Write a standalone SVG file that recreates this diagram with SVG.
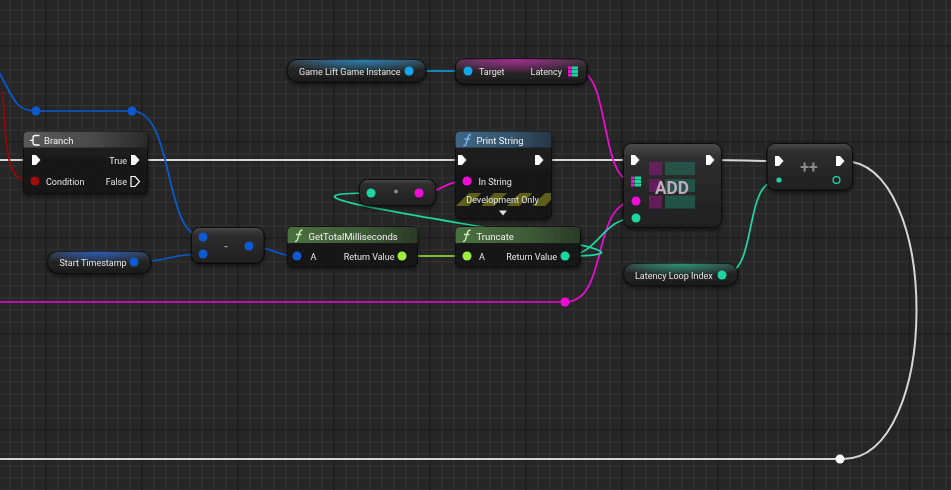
<svg xmlns="http://www.w3.org/2000/svg" width="951" height="490" viewBox="0 0 951 490">
<style>
  text { font-family: Roboto, "Liberation Sans", sans-serif; fill: #e4e4e4; font-size: 9px; }
  .title { font-size: 9.5px; fill: #f0f0f0; }
  .body { fill: url(#bodyG); stroke: #0b0b0b; stroke-width: 1; }
  .cbody { fill: url(#cbodyG); stroke: #0b0b0b; stroke-width: 1; }
  .wire { fill: none; stroke-width: 1.7; stroke-linecap: round; }
  .exec { fill: none; stroke: #d6d6d6; stroke-width: 2; }
  .w-struct { stroke: #0a5ad2; }
  .w-obj { stroke: #12a6ea; }
  .w-str { stroke: #f20ad8; }
  .w-int { stroke: #1ed6a0; }
  .w-flt { stroke: #9ef03c; }
  .w-bool { stroke: #9a0606; }
  .p-struct { fill: #0a5ad2; }
  .p-obj { fill: #12a6ea; }
  .p-str { fill: #f20ad8; }
  .p-int { fill: #1ed6a0; }
  .p-flt { fill: #9ef03c; }
  .p-bool { fill: #a00a0a; }
  .ex { fill: #ffffff; }
  .exh { fill: none; stroke: #ffffff; stroke-width: 1.2; }
</style>
<defs>
  <pattern id="minor" x="9.33" y="9.33" width="12" height="12" patternUnits="userSpaceOnUse">
    <rect x="0" y="0" width="12" height="1" fill="#343434"/>
    <rect x="0" y="0" width="1" height="12" fill="#343434"/>
  </pattern>
  <pattern id="major" x="45.33" y="45.33" width="96" height="96" patternUnits="userSpaceOnUse">
    <rect x="0" y="0" width="96" height="1.2" fill="#171717"/>
    <rect x="0" y="0" width="1.2" height="96" fill="#171717"/>
  </pattern>
  <pattern id="stripes" width="18" height="18" patternUnits="userSpaceOnUse" patternTransform="rotate(45)">
    <rect width="9" height="18" fill="#5e5e1a"/>
  </pattern>
  <linearGradient id="bodyG" x1="0" y1="0" x2="0" y2="1">
    <stop offset="0" stop-color="#1e1e1e" stop-opacity="0.95"/>
    <stop offset="1" stop-color="#141414" stop-opacity="0.95"/>
  </linearGradient>
  <linearGradient id="cbodyG" x1="0" y1="0" x2="0" y2="1">
    <stop offset="0" stop-color="#4a4a4a"/>
    <stop offset="0.18" stop-color="#2e2e2e"/>
    <stop offset="1" stop-color="#1f1f1f"/>
  </linearGradient>
  <linearGradient id="hdrGray" x1="0" y1="0" x2="1" y2="0">
    <stop offset="0" stop-color="#5a5a5a"/>
    <stop offset="0.55" stop-color="#4a4a4a"/>
    <stop offset="1" stop-color="#2a2a2a"/>
  </linearGradient>
  <linearGradient id="hdrBlue" x1="0" y1="0" x2="1" y2="0">
    <stop offset="0" stop-color="#3f6784"/>
    <stop offset="0.6" stop-color="#34536b"/>
    <stop offset="1" stop-color="#263644"/>
  </linearGradient>
  <linearGradient id="hdrGreen" x1="0" y1="0" x2="1" y2="0">
    <stop offset="0" stop-color="#4c7040"/>
    <stop offset="0.6" stop-color="#3d5a35"/>
    <stop offset="1" stop-color="#2a3a27"/>
  </linearGradient>
  <linearGradient id="pillBase" x1="0" y1="0" x2="0" y2="1">
    <stop offset="0" stop-color="#3a3a3a"/>
    <stop offset="0.5" stop-color="#242424"/>
    <stop offset="1" stop-color="#1c1c1c"/>
  </linearGradient>
  <radialGradient id="glowObj" cx="0.55" cy="0" r="0.6">
    <stop offset="0" stop-color="#2a8cc8" stop-opacity="0.85"/>
    <stop offset="1" stop-color="#2a8cc8" stop-opacity="0"/>
  </radialGradient>
  <radialGradient id="glowStruct" cx="0.5" cy="0" r="0.6">
    <stop offset="0" stop-color="#2a62c8" stop-opacity="0.85"/>
    <stop offset="1" stop-color="#2a62c8" stop-opacity="0"/>
  </radialGradient>
  <radialGradient id="glowInt" cx="0.5" cy="0" r="0.6">
    <stop offset="0" stop-color="#2aa883" stop-opacity="0.8"/>
    <stop offset="1" stop-color="#2aa883" stop-opacity="0"/>
  </radialGradient>
  <radialGradient id="glowMag" cx="0.45" cy="0" r="0.6">
    <stop offset="0" stop-color="#c02aa8" stop-opacity="0.8"/>
    <stop offset="1" stop-color="#c02aa8" stop-opacity="0"/>
  </radialGradient>
  <filter id="shadow" x="-10%" y="-20%" width="120%" height="150%">
    <feDropShadow dx="0" dy="2" stdDeviation="2" flood-color="#000" flood-opacity="0.6"/>
  </filter>
  <path id="execPin" d="M-4,-5 H0 L4.5,0 L0,5 H-4 Z"/>
  <g id="mapPin">
    <rect x="-5" y="-5" width="3" height="3" fill="#f20ad8"/>
    <rect x="-1.5" y="-5" width="6.5" height="3" fill="#1ed6a0"/>
    <rect x="-5" y="-1.5" width="3" height="3" fill="#f20ad8"/>
    <rect x="-1.5" y="-1.5" width="6.5" height="3" fill="#1ed6a0"/>
    <rect x="-5" y="2" width="3" height="3" fill="#f20ad8"/>
    <rect x="-1.5" y="2" width="6.5" height="3" fill="#1ed6a0"/>
  </g>
</defs>

<!-- background grid -->
<rect width="951" height="490" fill="#262626"/>
<rect width="951" height="490" fill="url(#minor)"/>
<rect width="951" height="490" fill="url(#major)"/>

<!-- connectors -->
<g id="connectors">
  <!-- exec -->
  <path class="exec" d="M0,160 H32"/>
  <path class="exec" d="M138,160 H458"/>
  <path class="exec" d="M542,160 H631"/>
  <path class="exec" d="M713,160 C745,160 745,161 775,161"/>
  <path class="exec" d="M843,161 C941,161 941,459 843,459"/>
  <path class="exec" d="M0,459 H838"/>
  <!-- struct -->
  <path class="wire w-struct" d="M-2,70 C14,100 16,111 36,111"/>
  <path class="wire w-struct" d="M36,111 H132"/>
  <path class="wire w-struct" d="M132,111 C175,111 163,237 203,237"/>
  <path class="wire w-struct" d="M134,262 C168,262 169,254 203,254"/>
  <path class="wire w-struct" d="M249,246 C273,246 273,256 297,256"/>
  <!-- bool -->
  <path class="wire w-bool" d="M3,92 C6,175 12,181 35,181"/>
  <!-- object -->
  <path class="wire w-obj" d="M409,71 H468"/>
  <!-- string / map -->
  <path class="wire w-str" d="M578,71 C610,71 600,181 632,181"/>
  <path class="wire w-str" d="M419,193 C443,193 443,181 467,181"/>
  <path class="wire w-str" d="M0,302 H565"/>
  <path class="wire w-str" d="M565,302 C610,302 590,201 636,201"/>
  <!-- float -->
  <path class="wire w-flt" d="M402,256 H467"/>
  <!-- int -->
  <path class="wire w-int" d="M565,256 C600,256 600,218 636,218"/>
  <path class="wire w-int" d="M565,256 C745,256 191,193 371,193"/>
  <path class="wire w-int" d="M722,275 C760,275 741,180 779,180"/>
  <!-- knots -->
  <circle cx="36" cy="111" r="4.5" class="p-struct"/>
  <circle cx="132" cy="111" r="4.5" class="p-struct"/>
  <circle cx="565" cy="302" r="4.5" class="p-str"/>
  <circle cx="840" cy="459" r="4.5" fill="#ffffff"/>
</g>

<!-- Branch -->
<g id="branch" filter="url(#shadow)">
  <rect x="23.5" y="131.5" width="124" height="62" rx="5" class="body"/>
  <path d="M23.5,147.5 V136.5 Q23.5,131.5 28.5,131.5 H142.5 Q147.5,131.5 147.5,136.5 V147.5 Z" fill="url(#hdrGray)"/>
  <path d="M39.5,135.5 H35.5 Q33,135.5 33,138 V142.5 Q33,145 35.5,145 H39.5 M30,140.3 H33" fill="none" stroke="#ffffff" stroke-width="1.3"/>
  <text x="44" y="143.5" class="title">Branch</text>
  <use href="#execPin" x="36" y="160" class="ex"/>
  <text x="127" y="163.5" text-anchor="end">True</text>
  <use href="#execPin" x="135" y="160" class="ex"/>
  <circle cx="35" cy="181" r="4.5" class="p-bool"/>
  <text x="46" y="184.5">Condition</text>
  <text x="127" y="185" text-anchor="end">False</text>
  <use href="#execPin" x="135" y="181.5" class="exh"/>
</g>

<!-- Game Lift Game Instance -->
<g id="gamelift-instance" filter="url(#shadow)">
  <rect x="287" y="59.5" width="139" height="22.5" rx="11" fill="url(#pillBase)" stroke="#0b0b0b"/>
  <rect x="287" y="59.5" width="139" height="22.5" rx="11" fill="url(#glowObj)"/>
  <text x="299" y="74.5">Game Lift Game Instance</text>
  <circle cx="409" cy="71" r="4.5" class="p-obj"/>
</g>

<!-- Latency getter -->
<g id="latency-getter" filter="url(#shadow)">
  <rect x="455.5" y="59" width="131.5" height="25" rx="8" fill="url(#pillBase)" stroke="#0b0b0b"/>
  <rect x="455.5" y="59" width="131.5" height="25" rx="8" fill="url(#glowMag)"/>
  <circle cx="468" cy="71" r="4.5" class="p-obj"/>
  <text x="479" y="74.5">Target</text>
  <text x="562" y="75" text-anchor="end">Latency</text>
  <use href="#mapPin" x="573" y="71.5"/>
</g>

<!-- Print String -->
<g id="print-string" filter="url(#shadow)">
  <rect x="455.5" y="131.5" width="96" height="87" rx="5" class="body"/>
  <path d="M455.5,147.5 V136.5 Q455.5,131.5 460.5,131.5 H546.5 Q551.5,131.5 551.5,136.5 V147.5 Z" fill="url(#hdrBlue)"/>
  <path d="M471,134.5 Q468.5,134.5 468,137.5 L466,144 Q465.5,146 463.5,146 M464.5,139 H470" fill="none" stroke="#7fb8f0" stroke-width="1.3"/>
  <text x="476.5" y="143.5" class="title">Print String</text>
  <use href="#execPin" x="462" y="160" class="ex"/>
  <use href="#execPin" x="539" y="160" class="ex"/>
  <circle cx="467" cy="181" r="4.5" class="p-str"/>
  <text x="478.5" y="184.5">In String</text>
  <rect x="456" y="193" width="95" height="13" fill="#151515"/>
  <rect x="456" y="193" width="95" height="13" fill="url(#stripes)"/>
  <text x="502.5" y="203" text-anchor="middle">Development Only</text>
  <path d="M499,210.5 H507 L503,215.5 Z" fill="#e0e0e0"/>
</g>

<!-- To String conversion -->
<g id="to-string" filter="url(#shadow)">
  <rect x="359.5" y="179.5" width="76" height="26" rx="8" class="cbody"/>
  <circle cx="371" cy="193" r="4.5" class="p-int"/>
  <circle cx="396" cy="191.5" r="2" fill="#8a8a8a"/>
  <circle cx="419" cy="193" r="4.5" class="p-str"/>
</g>

<!-- Subtract -->
<g id="subtract" filter="url(#shadow)">
  <rect x="191.5" y="227.5" width="72.5" height="35.5" rx="8" class="cbody"/>
  <circle cx="203" cy="237" r="4.5" class="p-struct"/>
  <circle cx="203" cy="254" r="4.5" class="p-struct"/>
  <text x="226" y="250" text-anchor="middle" style="font-weight:bold;fill:#9a9a9a;font-size:11px">-</text>
  <circle cx="249" cy="246" r="4.5" class="p-struct"/>
</g>

<!-- Start Timestamp -->
<g id="start-timestamp" filter="url(#shadow)">
  <rect x="47.5" y="251.5" width="103.5" height="22" rx="11" fill="url(#pillBase)" stroke="#0b0b0b"/>
  <rect x="47.5" y="251.5" width="103.5" height="22" rx="11" fill="url(#glowStruct)"/>
  <text x="59.5" y="265.5">Start Timestamp</text>
  <circle cx="134" cy="262" r="4.5" class="p-struct"/>
</g>

<!-- GetTotalMilliseconds -->
<g id="get-total-ms" filter="url(#shadow)">
  <rect x="287.5" y="227" width="130" height="39.5" rx="5" class="body"/>
  <path d="M287.5,243 V232 Q287.5,227 292.5,227 H412.5 Q417.5,227 417.5,232 V243 Z" fill="url(#hdrGreen)"/>
  <path d="M302.5,230 Q300,230 299.5,233 L297.5,239.5 Q297,241.5 295,241.5 M296,234.5 H301.5" fill="none" stroke="#c8f0b8" stroke-width="1.3"/>
  <text x="308.5" y="239.5" class="title">GetTotalMilliseconds</text>
  <circle cx="297" cy="256" r="4.5" class="p-struct"/>
  <text x="310.5" y="259.5">A</text>
  <text x="394.5" y="259.5" text-anchor="end">Return Value</text>
  <circle cx="402" cy="256" r="4.5" class="p-flt"/>
</g>

<!-- Truncate -->
<g id="truncate" filter="url(#shadow)">
  <rect x="455.5" y="227" width="124.5" height="39.5" rx="5" class="body"/>
  <path d="M455.5,243 V232 Q455.5,227 460.5,227 H575 Q580,227 580,232 V243 Z" fill="url(#hdrGreen)"/>
  <path d="M470.5,230 Q468,230 467.5,233 L465.5,239.5 Q465,241.5 463,241.5 M464,234.5 H469.5" fill="none" stroke="#c8f0b8" stroke-width="1.3"/>
  <text x="476.5" y="239.5" class="title">Truncate</text>
  <circle cx="467" cy="256" r="4.5" class="p-flt"/>
  <text x="479" y="259.5">A</text>
  <text x="557" y="259.5" text-anchor="end">Return Value</text>
  <circle cx="565" cy="256" r="4.5" class="p-int"/>
</g>

<!-- ADD -->
<g id="map-add" filter="url(#shadow)">
  <rect x="623.5" y="143.5" width="98" height="84" rx="8" class="cbody"/>
  <g opacity="0.85">
    <rect x="649" y="162" width="13" height="13" fill="#6e1e64"/>
    <rect x="649" y="179" width="13" height="13" fill="#6e1e64"/>
    <rect x="649" y="195.5" width="13" height="13" fill="#6e1e64"/>
    <rect x="665" y="162" width="30" height="13" fill="#245a4a"/>
    <rect x="665" y="179" width="30" height="13" fill="#245a4a"/>
    <rect x="665" y="195.5" width="30" height="13" fill="#245a4a"/>
  </g>
  <text x="672" y="193.5" text-anchor="middle" textLength="34" lengthAdjust="spacingAndGlyphs" style="font-size:19px;font-weight:bold;fill:#bfaabb">ADD</text>
  <use href="#execPin" x="635" y="160" class="ex"/>
  <use href="#execPin" x="710" y="160" class="ex"/>
  <use href="#mapPin" x="636" y="181.5"/>
  <circle cx="636" cy="201" r="4.5" class="p-str"/>
  <circle cx="636" cy="218" r="4.5" class="p-int"/>
</g>

<!-- Increment ++ -->
<g id="increment" filter="url(#shadow)">
  <rect x="767" y="143.5" width="85.5" height="46.5" rx="8" class="cbody"/>
  <use href="#execPin" x="779" y="161" class="ex"/>
  <use href="#execPin" x="840" y="161" class="ex"/>
  <text x="809" y="173" text-anchor="middle" style="font-size:16px;font-weight:bold;fill:#8c8c8c">++</text>
  <circle cx="779" cy="180" r="2.6" class="p-int"/>
  <circle cx="836.5" cy="180" r="3.4" fill="none" stroke="#1ed6a0" stroke-width="1.3"/>
</g>

<!-- Latency Loop Index -->
<g id="latency-loop-index" filter="url(#shadow)">
  <rect x="623.5" y="263.5" width="114.5" height="22" rx="11" fill="url(#pillBase)" stroke="#0b0b0b"/>
  <rect x="623.5" y="263.5" width="114.5" height="22" rx="11" fill="url(#glowInt)"/>
  <text x="635" y="278.5">Latency Loop Index</text>
  <circle cx="722" cy="275" r="4.5" class="p-int"/>
</g>
</svg>
